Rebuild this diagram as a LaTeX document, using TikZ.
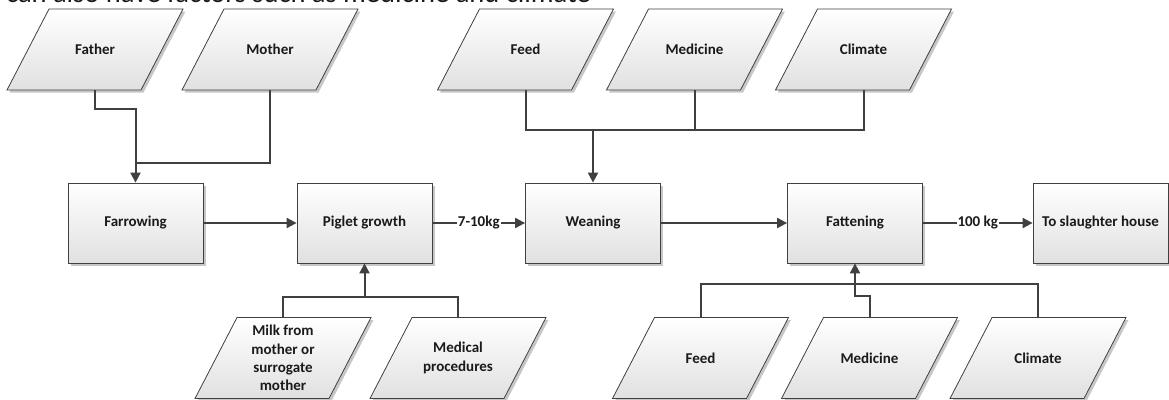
\documentclass[tikz,border=0pt]{standalone}
\usepackage{fontspec}
\setmainfont{Carlito}
\usetikzlibrary{arrows.meta,calc,shadows}
\definecolor{edge}{HTML}{404040}
\definecolor{ink}{HTML}{1A1A1A}
\tikzset{
  skin/.style={draw=edge, line width=0.8pt, top color=white, bottom color=black!12,
    drop shadow={shadow xshift=2.5pt, shadow yshift=-2.5pt, fill=black!22, opacity=1}},
  label text/.style={text=ink, font=\bfseries\fontsize{15}{18.3}\selectfont, align=center, inner sep=2pt},
  stage/.style={skin, label text, rectangle, minimum width=135pt, minimum height=80pt},
  factor text/.style={label text, rectangle, minimum width=134pt, minimum height=81pt},
  link/.style={draw=edge, line width=2pt},
  flow/.style={link, -{Triangle[length=10pt,width=10pt]}},
  weight/.style={fill=white, text=ink, font=\bfseries\fontsize{15}{18}\selectfont, inner sep=1pt}
}
% slanted input box: outline first, then the named text node on top
\newcommand\factorbox[3]{%
  \path[skin] ($(#2)+(-88,40.5)$) -- ($(#2)+(46,40.5)$) -- ($(#2)+(88,-40.5)$)
    -- ($(#2)+(-46,-40.5)$) -- cycle;
  \node[factor text] (#1) at (#2) {#3};}
\begin{document}
\begin{tikzpicture}[x=1pt, y=-1pt]
\useasboundingbox (0,0) rectangle (1169,399);

% heading line, only its lower part lies inside the page
\begin{scope}
  \clip (0,0) rectangle (1169,399);
  \node[anchor=base west, inner sep=0, text=ink, font=\fontsize{28.5}{34}\selectfont]
    (heading) at (6,2) {can also have factors such as medicine and climate};
\end{scope}

% stages of production
\node[stage] (farrowing) at (135.5,223) {Farrowing};
\node[stage] (piglet)    at (364.5,223) {Piglet growth};
\node[stage] (weaning)   at (593,223)   {Weaning};
\node[stage] (fattening) at (855,223)   {Fattening};
\node[stage] (slaughter) at (1100.5,223) {To slaughter house};

% factors above
\factorbox{father}{95,49.5}{Father}
\factorbox{mother}{270,49.5}{Mother}
\factorbox{feedA}{525.5,49.5}{Feed}
\factorbox{medA}{694.5,49.5}{Medicine}
\factorbox{climA}{863.5,49.5}{Climate}

% factors below
\factorbox{milk}{283,358}{Milk from\\mother or\\surrogate\\mother}
\factorbox{medproc}{458,358}{Medical\\procedures}
\factorbox{feedB}{700.5,358}{Feed}
\factorbox{medB}{869.5,358}{Medicine}
\factorbox{climB}{1038,358}{Climate}

% junction points of the feeder lines
\coordinate (parents) at ($(farrowing.north)+(0,-20)$);
\coordinate (wbus)    at ($(weaning.north)+(0,-53)$);
\coordinate (pbus)    at ($(piglet.south)+(0,34)$);
\coordinate (fbus)    at ($(fattening.south)+(0,21)$);

% parents into farrowing
\draw[flow] (father.south) -- ++(0,19) -| (farrowing.north);
\draw[link] (mother.south) |- (parents);

% inputs into weaning
\draw[link] (feedA.south) |- (wbus);
\draw[link] (medA.south) |- (wbus);
\draw[link] (climA.south) |- (wbus);
\draw[flow] (wbus) -- (weaning.north);

% inputs into piglet growth
\draw[link] (milk.north) |- (pbus);
\draw[link] (medproc.north) |- (pbus);
\draw[flow] (pbus) -- (piglet.south);

% inputs into fattening
\draw[link] (feedB.north) |- (fbus);
\draw[link] (climB.north) |- (fbus);
\draw[flow] (medB.north) -- ++(0,-21) -| (fattening.south);

% main flow
\draw[flow] (farrowing) -- (piglet);
\draw[flow] (piglet) -- node[weight] {7-10kg} (weaning);
\draw[flow] (weaning) -- (fattening);
\draw[flow] (fattening) -- node[weight] {100 kg} (slaughter);
\end{tikzpicture}
\end{document}
